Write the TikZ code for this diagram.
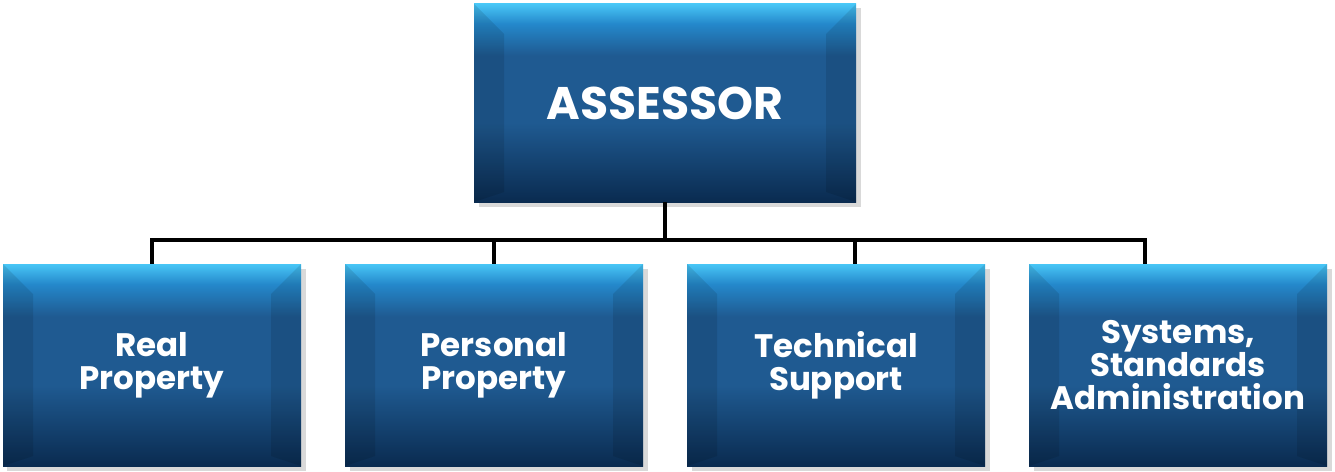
\documentclass[tikz,border=0pt]{standalone}
\usepackage{fontspec}
\setmainfont{Poppins}
\usepackage{tikz}
\usetikzlibrary{shadows}
\definecolor{topcyan}{HTML}{48C6F6}
\definecolor{brightblue}{HTML}{2488CB}
\definecolor{midblue}{HTML}{1F5A91}
\definecolor{navy}{HTML}{0A2B50}
\pgfdeclareverticalshading{boxblue}{100bp}{color(0bp)=(navy); color(25bp)=(navy);
	color(45bp)=(midblue); color(62bp)=(midblue); color(70bp)=(brightblue);
	color(75bp)=(topcyan); color(100bp)=(topcyan)}
\tikzset{
	unit/.style = {rectangle, align=center, text=white, shading=boxblue,
		drop shadow={shadow xshift=0.09cm, shadow yshift=-0.09cm, opacity=0.3},
		path picture={
			\coordinate (nw) at (path picture bounding box.north west);
			\coordinate (ne) at (path picture bounding box.north east);
			\coordinate (sw) at (path picture bounding box.south west);
			\coordinate (se) at (path picture bounding box.south east);
			\fill[black, opacity=0.1] (nw) -- ([shift={(0.6,-0.6)}]nw)
				-- ([shift={(0.6,0.2)}]sw) -- (sw) -- cycle;
			\fill[black, opacity=0.1] (ne) -- ([shift={(-0.6,-0.6)}]ne)
				-- ([shift={(-0.6,0.2)}]se) -- (se) -- cycle;
		}},
	head/.style = {unit, minimum width=7.64cm, minimum height=3.96cm,
		font=\bfseries\fontsize{26}{30}\selectfont},
	dept/.style = {unit, minimum width=5.96cm, minimum height=4.04cm,
		font=\bfseries\fontsize{18.5}{18.8}\selectfont},
	feed/.style = {edge from parent path={(\tikzparentnode.south) -- ++(0,-0.76)
		-| ([xshift=#1]\tikzchildnode.north)}}
}

\begin{document}
\begin{tikzpicture}[level/.style={sibling distance=6.84cm, level distance=5.24cm},
	feed=0pt, edge from parent/.style={draw, black, line width=2.3pt}]
\useasboundingbox (0,0) rectangle (26.7,-9.44);
\node [head] (assessor) at (13.3,-2.06) {ASSESSOR}
child{ node [dept] (realprop) {Real\\Property} }
child{ node [dept] (persprop) {Personal\\Property} }
child[feed=0.38cm]{ node [dept] (techsup) {Technical\\Support} }
child[feed=-0.66cm]{ node [dept] (sysadmin) {Systems,\\Standards \\Administration} }
;
\end{tikzpicture}
\end{document}
